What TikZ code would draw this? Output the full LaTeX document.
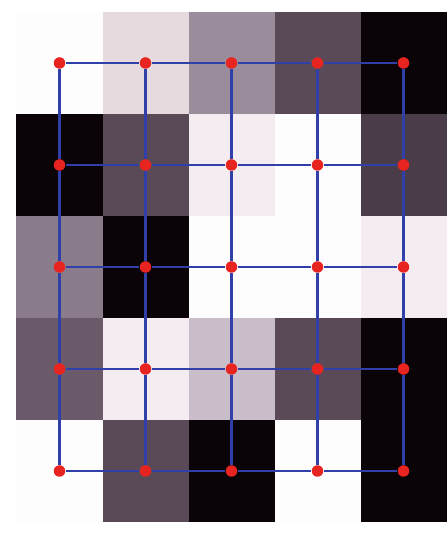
\documentclass[tikz,border=0pt]{standalone}
\usepackage{tikz}

\tikzset{
  pixDot/.style={circle,fill=pixRed,inner sep=0pt,minimum size=0.115cm},
  pixEdge/.style={draw=pixBlue,line width=0.6pt}
}

\begin{document}
\begin{tikzpicture}[x=1cm,y=1cm]
\definecolor{pixWhite}{HTML}{FEFDFE}
\definecolor{pixPale}{HTML}{F4ECF0}
\definecolor{pixLight}{HTML}{E6DADF}
\definecolor{pixSilver}{HTML}{C9BDC9}
\definecolor{pixMid}{HTML}{9A8C9A}
\definecolor{pixSlate}{HTML}{8A7C8A}
\definecolor{pixDim}{HTML}{6A5A6A}
\definecolor{pixDark}{HTML}{5A4A58}
\definecolor{pixDeep}{HTML}{4A3C48}
\definecolor{pixBlack}{HTML}{0A0408}
\definecolor{pixRed}{HTML}{E82420}
\definecolor{pixBlue}{HTML}{3040A8}
\useasboundingbox (0,0) rectangle (4.46,5.38);
\fill[white] (0,0) rectangle (4.46,5.38);
% gray cells, top row first
\foreach \row [count=\r] in {
  {pixWhite,pixLight,pixMid,pixDark,pixBlack},
  {pixBlack,pixDark,pixPale,pixWhite,pixDeep},
  {pixSlate,pixBlack,pixWhite,pixWhite,pixPale},
  {pixDim,pixPale,pixSilver,pixDark,pixBlack},
  {pixWhite,pixDark,pixBlack,pixWhite,pixBlack}} {
  \foreach \col [count=\c] in \row {
    \fill[\col] ({0.165+0.86*(\c-1)},{5.26-1.02*(\r-1)}) rectangle +(0.86,-1.02);
  }
}
% one dot per cell
\foreach \r in {1,...,5} {
  \foreach \c in {1,...,5} {
    \node[pixDot] (n\r\c) at ({0.165+0.86*(\c-0.5)},{5.26-1.02*(\r-0.5)}) {};
  }
}
% neighbours
\foreach \r in {1,...,5} {
  \foreach \c [evaluate=\c as \d using int(\c+1)] in {1,...,4} {
    \draw[pixEdge] (n\r\c) -- (n\r\d);
    \draw[pixEdge] (n\c\r) -- (n\d\r);
  }
}
\end{tikzpicture}
\end{document}
